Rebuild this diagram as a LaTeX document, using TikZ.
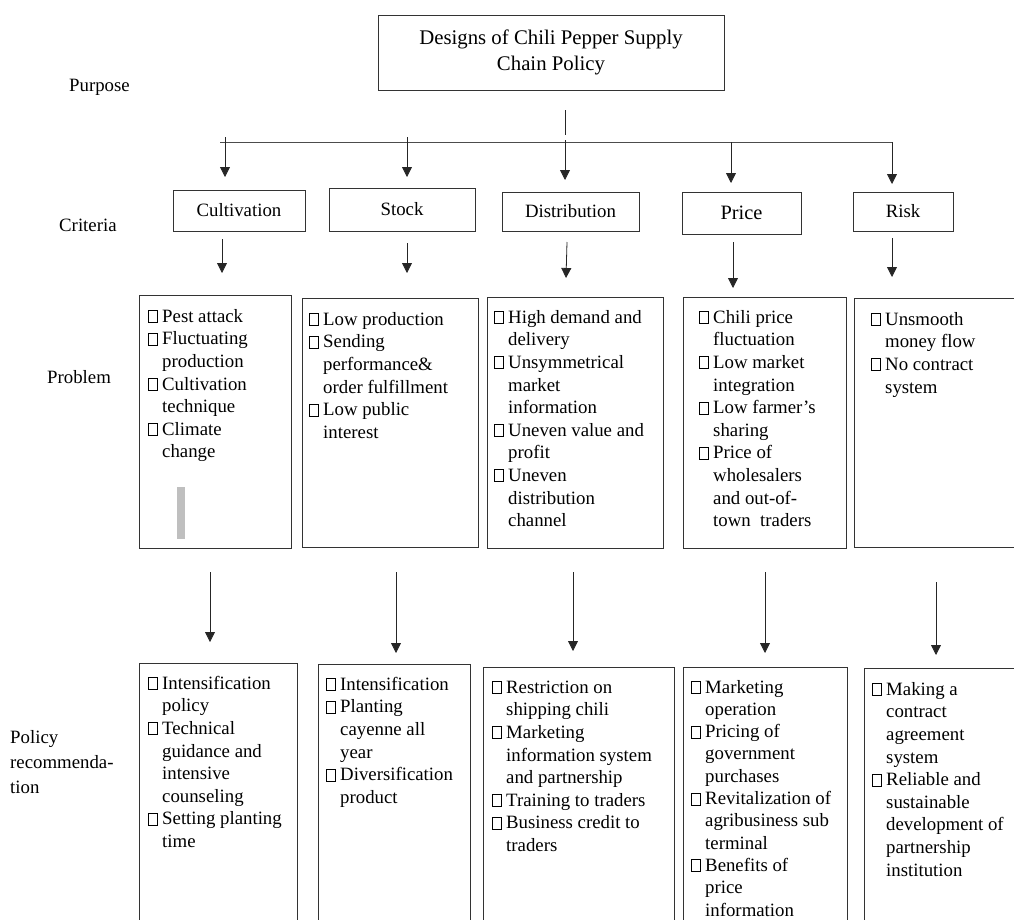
\documentclass[tikz,border=0pt]{standalone}
\usepackage{fontspec}
\setmainfont{Liberation Serif}
\usetikzlibrary{arrows.meta}
\newcommand{\bx}{{\fboxsep=0pt\fboxrule=0.6pt\fbox{\rule{0pt}{11.4pt}\rule{8.4pt}{0pt}}}}
\newcommand{\bodyfont}{\fontsize{18.8}{22.6}\selectfont}
\newenvironment{itemlist}{\begin{tabular}{@{}p{14pt}@{}l@{}}}{\end{tabular}}
\begin{document}
\begin{tikzpicture}[x=1pt, y=-1pt,
    every node/.style={font=\bodyfont},
    frame/.style={draw=black!80, line width=0.9pt, inner sep=0pt},
    lbl/.style={inner sep=0pt, anchor=base west},
    items/.style={inner sep=0pt, anchor=north west},
    arr/.style={draw=black!85, line width=0.8pt, -{Triangle[width=10pt,length=10pt]}}]
  \useasboundingbox (0,0) rectangle (1014,919);
  \clip (0,0) rectangle (1014,919);

  % level labels
  \node[lbl] (lPurpose) at (69,91) {Purpose};
  \node[lbl] (lCriteria) at (59,231) {Criteria};
  \node[lbl] (lProblem) at (47,383) {Problem};
  \node[items, align=left, font=\fontsize{18.8}{25}\selectfont] (lPolicy) at (10,730)
    {Policy\\recommenda-\\tion};

  % purpose
  \node[frame, minimum width=346pt, minimum height=75pt, align=center,
    font=\fontsize{20.8}{26}\selectfont] (title) at (551,52.5)
    {Designs of Chili Pepper Supply\\Chain Policy};

  % criteria
  \node[frame, minimum width=132pt, minimum height=41pt] (cCult) at (239,210.5) {Cultivation};
  \node[frame, minimum width=146pt, minimum height=43pt] (cStock) at (402,209.5) {Stock};
  \node[frame, minimum width=137pt, minimum height=39pt] (cDist) at (570.5,211.5) {Distribution};
  \node[frame, minimum width=119pt, minimum height=42pt,
    font=\fontsize{20.4}{24}\selectfont] (cPrice) at (741.5,213) {Price};
  \node[frame, minimum width=100pt, minimum height=39pt] (cRisk) at (903,211.5) {Risk};

  % problem boxes
  \node[frame, minimum width=152pt, minimum height=253pt] (pCult) at (215,421.5) {};
  \node[frame, minimum width=176pt, minimum height=249pt] (pStock) at (390,422.5) {};
  \node[frame, minimum width=176pt, minimum height=251pt] (pDist) at (575,422.5) {};
  \node[frame, minimum width=163pt, minimum height=251pt] (pPrice) at (764.5,422.5) {};
  \node[frame, minimum width=176pt, minimum height=249pt] (pRisk) at (942,422.5) {};
  \fill[black!25] (177,487) rectangle (185,539);

  \node[items] (tpCult) at (148,306.2) {\begin{itemlist}
    \bx & Pest attack\\
    \bx & Fluctuating\\ & production\\
    \bx & Cultivation\\ & technique\\
    \bx & Climate\\ & change
  \end{itemlist}};
  \node[items] (tpStock) at (309,309.2) {\begin{itemlist}
    \bx & Low production\\
    \bx & Sending\\ & performance\&\\ & order fulfillment\\
    \bx & Low public\\ & interest
  \end{itemlist}};
  \node[items] (tpDist) at (494,307.2) {\begin{itemlist}
    \bx & High demand and\\ & delivery\\
    \bx & Unsymmetrical\\ & market\\ & information\\
    \bx & Uneven value and\\ & profit\\
    \bx & Uneven\\ & distribution\\ & channel
  \end{itemlist}};
  \node[items] (tpPrice) at (699,307.2) {\begin{itemlist}
    \bx & Chili price\\ & fluctuation\\
    \bx & Low market\\ & integration\\
    \bx & Low farmer’s\\ & sharing\\
    \bx & Price of\\ & wholesalers\\ & and out-of-\\ & town\ \ traders
  \end{itemlist}};
  \node[items] (tpRisk) at (871,309.2) {\begin{itemlist}
    \bx & Unsmooth\\ & money flow\\
    \bx & No contract\\ & system
  \end{itemlist}};

  % policy recommendation boxes
  \node[frame, minimum width=158pt, minimum height=277pt] (rCult) at (218,801.5) {};
  \node[frame, minimum width=152pt, minimum height=276pt] (rStock) at (394,802) {};
  \node[frame, minimum width=191pt, minimum height=273pt] (rDist) at (578.5,803.5) {};
  \node[frame, minimum width=164pt, minimum height=273pt] (rPrice) at (765,803.5) {};
  \node[frame, minimum width=176pt, minimum height=272pt] (rRisk) at (952,804) {};

  \node[items] (trCult) at (148,673.2) {\begin{itemlist}
    \bx & Intensification\\ & policy\\
    \bx & Technical\\ & guidance and\\ & intensive\\ & counseling\\
    \bx & Setting planting\\ & time
  \end{itemlist}};
  \node[items] (trStock) at (326,674.2) {\begin{itemlist}
    \bx & Intensification\\
    \bx & Planting\\ & cayenne all\\ & year\\
    \bx & Diversification\\ & product
  \end{itemlist}};
  \node[items] (trDist) at (492,677.2) {\begin{itemlist}
    \bx & Restriction on\\ & shipping chili\\
    \bx & Marketing\\ & information system\\ & and partnership\\
    \bx & Training to traders\\
    \bx & Business credit to\\ & traders
  \end{itemlist}};
  \node[items, font=\fontsize{18.8}{22.3}\selectfont] (trPrice) at (691,677.2) {\begin{itemlist}
    \bx & Marketing\\ & operation\\
    \bx & Pricing of\\ & government\\ & purchases\\
    \bx & Revitalization of\\ & agribusiness sub\\ & terminal\\
    \bx & Benefits of\\ & price\\ & information
  \end{itemlist}};
  \node[items] (trRisk) at (872,679.2) {\begin{itemlist}
    \bx & Making a\\ & contract\\ & agreement\\ & system\\
    \bx & Reliable and\\ & sustainable\\ & development of\\ & partnership\\ & institution
  \end{itemlist}};

  % branching from the purpose
  \coordinate (stemA) at (565,110);
  \coordinate (stemB) at (565,135);
  \coordinate (barL) at (220,142);
  \coordinate (barR) at (892,142);
  \draw[black!85, line width=0.8pt] (stemA) -- (stemB);
  \draw[black!70, line width=1pt] (barL) -- (barR);

  % arrows
  \foreach \nm/\xa/\ya/\xb/\yb in {
      kCult/225/137/225/177, kStock/407/137/407/177, kDist/565/140/565/180,
      kPrice/731/142/731/183, kRisk/892/142/892/184,
      qCult/222/239/222/273, qStock/407/243/407/273, qDist/567/242/566/278,
      qPrice/733/242/733/288, qRisk/892/238/892/277,
      sCult/210/572/210/642, sStock/396/572/396/653, sDist/573/572/573/651,
      sPrice/765/572/765/653, sRisk/936/582/936/655} {
    \coordinate (\nm-a) at (\xa,\ya);
    \coordinate (\nm-b) at (\xb,\yb);
    \draw[arr] (\nm-a) -- (\nm-b);
  }
\end{tikzpicture}
\end{document}
